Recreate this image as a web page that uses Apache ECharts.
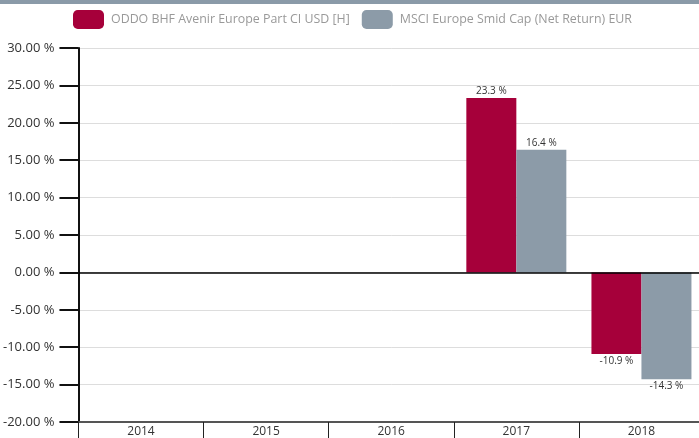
<!DOCTYPE html>
<html>
<head>
<meta charset="utf-8">
<script src="https://cdn.jsdelivr.net/npm/echarts@6/dist/echarts.min.js"></script>
<style>
  html, body { margin: 0; padding: 0; background: #fff; overflow: hidden; width: 699px; height: 438px; }
  #topband { position: absolute; left: 0; top: 0; width: 699px; height: 4px; background: #8a9aa8; z-index: 2; }
  #chart { width: 704px; height: 438px; }
</style>
</head>
<body>
<div id="topband"></div>
<div id="chart"></div>
<script>
const years = ['2014', '2015', '2016', '2017', '2018']
const fundName = 'ODDO BHF Avenir Europe Part CI USD [H]'
const indexName = 'MSCI Europe Smid Cap (Net Return) EUR'
const fundValues = [null, null, null, 23.3, -10.9]
const indexValues = [null, null, null, 16.4, -14.3]

const font = 'Open Sans'

function barLabel (p) {
  return p.value.toFixed(1) + ' %'
}

function makeSeries (name, values, color) {
  return {
    name: name,
    type: 'bar',
    data: values.map(v => v === null ? null : {
      value: v,
      label: { position: v < 0 ? 'bottom' : 'top' }
    }),
    barWidth: 50,
    barGap: '0%',
    itemStyle: { color: color },
    label: {
      show: true,
      formatter: barLabel,
      color: '#333',
      fontSize: 10,
      fontFamily: font,
      distance: 2
    }
  }
}

let myChart = echarts.init(document.getElementById('chart'))

let series = [
  makeSeries(fundName, fundValues, '#a6003a'),
  makeSeries(indexName, indexValues, '#8c9ba8')
]
series[0].markLine = {
  silent: true,
  symbol: 'none',
  label: { show: false },
  lineStyle: { color: '#000', width: 1.5, type: 'solid' },
  data: [{ yAxis: 0 }]
}

let option = {
  animation: false,
  textStyle: { fontFamily: font },
  legend: {
    top: 5,
    left: 68,
    itemWidth: 31,
    itemHeight: 19,
    itemGap: 12,
    icon: 'roundRect',
    textStyle: { color: '#999', fontSize: 12.4, fontFamily: font, padding: [0, 0, 0, 2] },
    data: [fundName, indexName]
  },
  grid: { left: 77, top: 48, right: 0, bottom: 16, containLabel: false },
  xAxis: {
    type: 'category',
    data: years,
    axisLine: { onZero: false, lineStyle: { color: '#555', width: 2 } },
    axisTick: { show: true, length: 17, lineStyle: { color: '#222', width: 1 } },
    axisLabel: { color: '#333', fontSize: 12, margin: 4, fontFamily: font },
    splitLine: { show: false }
  },
  yAxis: {
    type: 'value',
    min: -20,
    max: 30,
    interval: 5,
    axisLine: { show: true, lineStyle: { color: '#111', width: 2 } },
    axisTick: { show: true, length: 19, lineStyle: { color: '#111', width: 2 } },
    axisLabel: {
      color: '#333',
      fontSize: 13,
      margin: 24,
      fontFamily: font,
      formatter: v => v.toFixed(2) + ' %'
    },
    splitLine: { lineStyle: { color: '#ddd', width: 1 } }
  },
  series: series
}

myChart.setOption(option)
</script>
</body>
</html>
